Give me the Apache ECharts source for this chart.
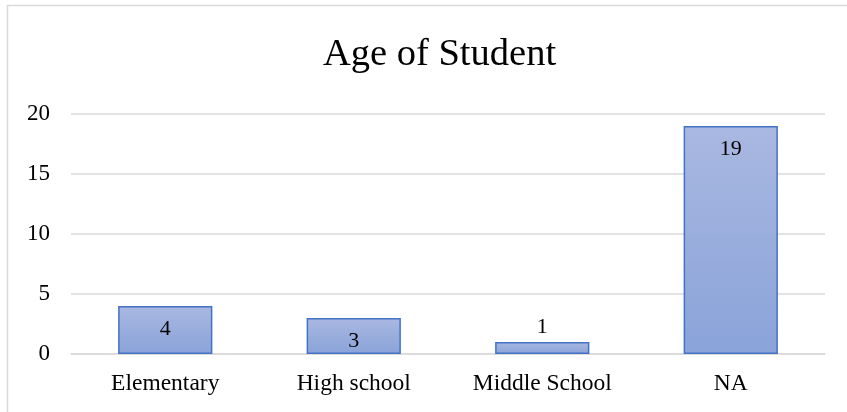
<!DOCTYPE html>
<html>
<head>
<meta charset="utf-8">
<script src="https://cdn.jsdelivr.net/npm/echarts@6/dist/echarts.min.js"></script>
<style>
  html, body { margin: 0; padding: 0; background: #fff; }
  #chart { width: 847px; height: 412px; }
</style>
</head>
<body>
<div id="chart"></div>
<script>
const categories = ["Elementary", "High school", "Middle School", "NA"];
const counts = [4, 3, 1, 19];
const yTicks = [0, 5, 10, 15, 20];

const SERIF = '"Liberation Serif", "DejaVu Serif", serif';
const GRID = "#d9d9d9";

const chart = echarts.init(document.getElementById("chart"), null, { renderer: "canvas" });

// labels go above bars too short to hold them, like Excel's "inside end"
const barData = counts.map((v) =>
  v < 2 ? { value: v, label: { position: "top", distance: 4 } } : v
);

chart.setOption({
  backgroundColor: "#fff",
  animation: false,
  textStyle: { fontFamily: SERIF },
  title: {
    text: "Age of Student",
    left: 318,
    top: 30,
    textStyle: { fontFamily: SERIF, fontSize: 38.5, fontWeight: "normal", color: "#000" },
  },
  graphic: [
    {
      type: "rect",
      shape: { x: 7.5, y: 5.5, width: 900, height: 500 },
      style: { fill: "none", stroke: GRID, lineWidth: 1.5 },
      silent: true,
    },
  ],
  grid: { left: 71, right: 22, top: 114, bottom: 58, containLabel: false },
  xAxis: {
    type: "category",
    data: categories,
    axisLine: { show: true, lineStyle: { color: GRID, width: 1.5 } },
    axisTick: { show: false },
    axisLabel: { color: "#000", fontSize: 23.5, fontFamily: SERIF, margin: 18 },
  },
  yAxis: {
    type: "value",
    min: yTicks[0],
    max: yTicks[yTicks.length - 1],
    interval: 5,
    axisLine: { show: false },
    axisTick: { show: false },
    axisLabel: { color: "#000", fontSize: 23, fontFamily: SERIF, margin: 21 },
    splitLine: { lineStyle: { color: GRID, width: 1.5 } },
  },
  series: [
    {
      type: "bar",
      data: barData,
      barWidth: "50%",
      itemStyle: {
        color: new echarts.graphic.LinearGradient(0, 0, 0, 1, [
          { offset: 0, color: "#a9b8e1" },
          { offset: 1, color: "#8aa3d9" },
        ]),
        borderColor: "#4472c4",
        borderWidth: 1.5,
      },
      label: {
        show: true,
        position: "insideTop",
        distance: 12,
        color: "#000",
        fontSize: 22,
        fontFamily: SERIF,
      },
    },
  ],
});
</script>
</body>
</html>
